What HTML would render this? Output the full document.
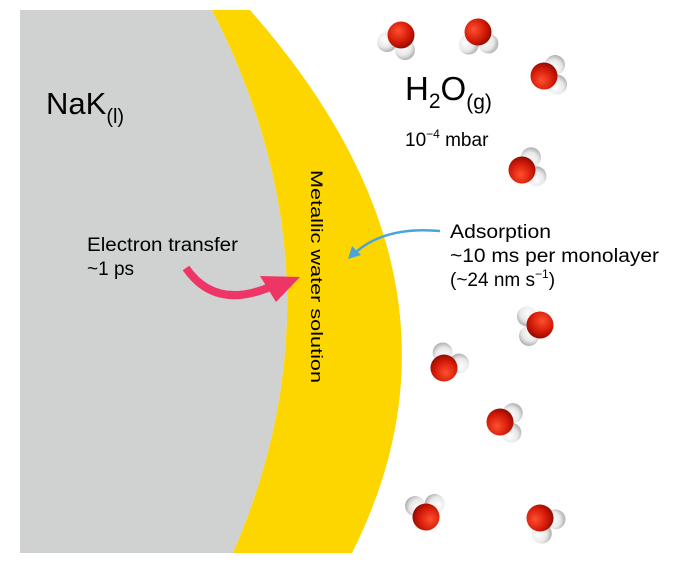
<!DOCTYPE html>
<html><head><style>
body{margin:0;background:#fff;}
svg{display:block;font-family:"Liberation Sans",Arial,sans-serif;}
</style></head><body>
<svg width="700" height="564" viewBox="0 0 700 564">
<defs>
<radialGradient id="ro" cx="0.4" cy="0.35" r="0.7"><stop offset="0" stop-color="#ff5030"/><stop offset="0.6" stop-color="#d41a08"/><stop offset="1" stop-color="#8a0a00"/></radialGradient>
<radialGradient id="wh" cx="0.4" cy="0.35" r="0.7"><stop offset="0" stop-color="#ffffff"/><stop offset="0.6" stop-color="#e8e8e8"/><stop offset="1" stop-color="#a8a8a8"/></radialGradient>
<g id="m"><circle cx="-14" cy="7" r="10" fill="url(#wh)"/><circle cx="4" cy="15" r="10" fill="url(#wh)"/><circle cx="0" cy="0" r="13.5" fill="url(#ro)"/></g>
</defs>
<path d="M20,10 L212,10 Q351,281 233,553 L20,553 Z" fill="#d0d1d1"/>
<path d="M212,10 L250,10 Q489,281 352,553 L233,553 Q351,281 212,10 Z" fill="#fdd600"/>
<use href="#m" transform="translate(401,35) rotate(0)"/>
<use href="#m" transform="translate(478,32) rotate(-27)"/>
<use href="#m" transform="translate(544,76) rotate(-120)"/>
<use href="#m" transform="translate(522,170) rotate(-130)"/>
<use href="#m" transform="translate(540,325) rotate(60)"/>
<use href="#m" transform="translate(444,368) rotate(-170)"/>
<use href="#m" transform="translate(500,422) rotate(-110)"/>
<use href="#m" transform="translate(426,517) rotate(150)"/>
<use href="#m" transform="translate(540,518) rotate(-70)"/>
<text x="46" y="114" font-size="31">NaK<tspan font-size="20" dy="9">(l)</tspan></text>
<text x="405" y="100" font-size="33">H<tspan font-size="21" dy="8">2</tspan><tspan dy="-8">O</tspan><tspan font-size="21" dy="9">(g)</tspan></text>
<text x="405" y="146" font-size="19">10<tspan font-size="12" dy="-8">−4</tspan><tspan dy="8"> mbar</tspan></text>
<text x="87" y="251" font-size="19" textLength="151" lengthAdjust="spacingAndGlyphs">Electron transfer</text>
<text x="87" y="275" font-size="19">~1 ps</text>
<text x="450" y="238" font-size="19" textLength="101" lengthAdjust="spacingAndGlyphs">Adsorption</text>
<text x="450" y="262" font-size="19" textLength="209" lengthAdjust="spacingAndGlyphs">~10 ms per monolayer</text>
<text x="450" y="286" font-size="19">(~24 nm s<tspan font-size="12" dy="-8">−1</tspan><tspan dy="8">)</tspan></text>
<text transform="translate(311,170) rotate(90)" font-size="17" textLength="213" lengthAdjust="spacingAndGlyphs">Metallic water solution</text>
<path d="M186,268 Q215,310 270,287" fill="none" stroke="#ee3666" stroke-width="8"/>
<path d="M300,277 L260,276 L276,302 Z" fill="#ee3666"/>
<path d="M440,231 Q386,226 356,252" fill="none" stroke="#4aa4dc" stroke-width="2.5"/>
<path d="M348,259 L352,246 L361,255 Z" fill="#4aa4dc"/>
</svg>
</body></html>
